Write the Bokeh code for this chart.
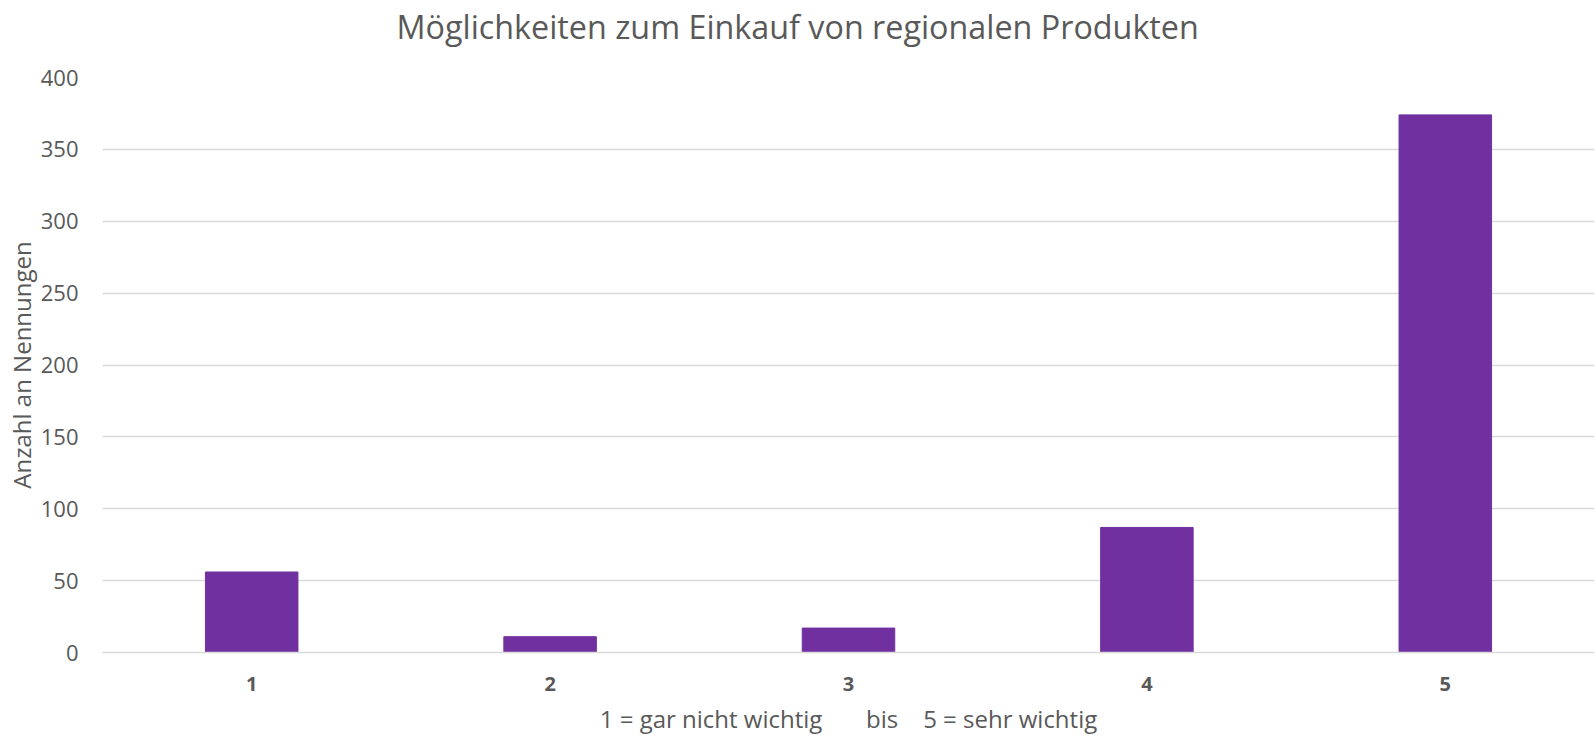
from bokeh.plotting import figure
from bokeh.models import Range1d, FactorRange, FixedTicker, Title
from bokeh.embed import file_html
from bokeh.resources import INLINE

title_text = "Möglichkeiten zum Einkauf von regionalen Produkten"
categories = ["1", "2", "3", "4", "5"]
counts = [56, 11, 17, 87, 374]
y_ticks = [0, 50, 100, 150, 200, 250, 300, 350, 400]
x_label = "1 = gar nicht wichtig" + "\u00a0" * 6 + " bis" + "\u00a0" * 3 + " 5 = sehr wichtig"
y_label = "Anzahl an Nennungen"

FONT = "Open Sans"
GRAY = "#595959"
BAR = "#7030A0"

p = figure(
    x_range=FactorRange(*categories, range_padding=0),
    y_range=Range1d(0, 400),
    width=1595, height=738,
    output_backend="svg", toolbar_location=None,
    min_border_left=102, min_border_right=1,
    min_border_top=77, min_border_bottom=86,
)
p.vbar(x=categories, top=counts, width=0.31, fill_color=BAR, line_color=BAR)

p.title.text = title_text
p.title.align = "left"
p.title.vertical_align = "top"
p.title.offset = 294
p.title.text_font = FONT
p.title.text_font_size = "32.3px"
p.title.text_font_style = "normal"
p.title.text_color = GRAY
p.title.standoff = 0

# empty spacer panel between the title and the plot area
spacer = Title(text=" ", text_font_size="10px", standoff=15)
p.add_layout(spacer, "above")

p.outline_line_color = None
p.background_fill_color = "white"
p.border_fill_color = "white"

p.xgrid.grid_line_color = None
p.ygrid.grid_line_color = "#d9d9d9"
p.ygrid.grid_line_width = 1.3

p.yaxis.ticker = FixedTicker(ticks=y_ticks)
p.yaxis.axis_line_color = None
p.yaxis.major_tick_line_color = None
p.yaxis.minor_tick_line_color = None
p.yaxis.major_label_text_font = FONT
p.yaxis.major_label_text_font_size = "22px"
p.yaxis.major_label_text_color = GRAY
p.yaxis.major_label_standoff = 18
p.yaxis.axis_label = y_label
p.yaxis.axis_label_text_font = FONT
p.yaxis.axis_label_text_font_size = "24px"
p.yaxis.axis_label_text_font_style = "normal"
p.yaxis.axis_label_text_color = GRAY
p.yaxis.axis_label_standoff = 0

p.xaxis.axis_line_color = "#d9d9d9"
p.xaxis.axis_line_width = 1.3
p.xaxis.major_tick_line_color = None
p.xaxis.minor_tick_line_color = None
p.xaxis.major_label_text_font = FONT
p.xaxis.major_label_text_font_size = "20px"
p.xaxis.major_label_text_font_style = "bold"
p.xaxis.major_label_text_color = GRAY
p.xaxis.major_label_standoff = 18
p.xaxis.axis_label = x_label
p.xaxis.axis_label_text_font = FONT
p.xaxis.axis_label_text_font_size = "24px"
p.xaxis.axis_label_text_font_style = "normal"
p.xaxis.axis_label_text_color = GRAY
p.xaxis.axis_label_standoff = 8

open("out.html", "w").write(file_html(p, INLINE))
